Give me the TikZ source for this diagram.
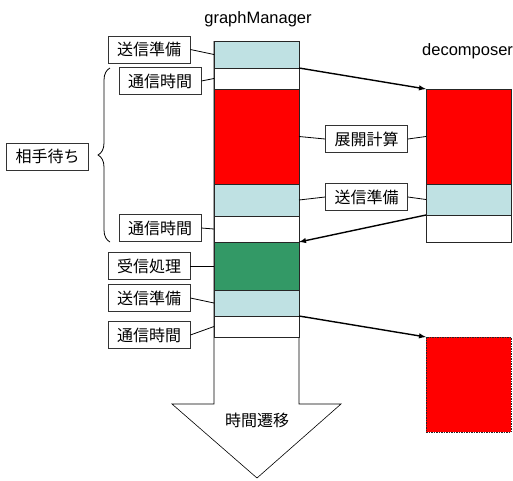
\documentclass[tikz,border=0pt]{standalone}
\usepackage{fontspec}
\setmainfont{Liberation Sans}
\newfontfamily\jpfont{Noto Sans CJK JP}
\usetikzlibrary{decorations.pathreplacing}
\definecolor{ltblue}{HTML}{BFE1E3}
\definecolor{procgreen}{HTML}{339966}
\begin{document}
\begin{tikzpicture}[x=1pt, y=-1pt, >=latex,
    seg/.style={draw=black!85, line width=0.6pt, inner sep=0, outer sep=0,
      minimum width=85, anchor=north west},
    lbl/.style={draw=black!80, line width=0.8pt, fill=white, inner sep=0,
      minimum width=82, minimum height=27, font=\jpfont\fontsize{16}{19}\selectfont},
    msg/.style={->, line width=1.4pt}]
  \useasboundingbox (0,0) rectangle (513,480);
  % time arrow behind the graphManager column
  \draw[line width=0.6pt, fill=white] (214,41) -- (214,404) -- (172,404) -- (257,478)
    -- (341,404) -- (299,404) -- (299,41);
  \node[font=\jpfont\fontsize{16}{19}\selectfont] (flow) at (257,420) {時間遷移};
  \foreach \n/\y/\h/\c in {g1/41/27/ltblue, g2/68/21/white, g3/89/95/red,
      g4/184/32/ltblue, g5/216/26/white, g6/242/48/procgreen, g7/290/26/ltblue,
      g8/316/21/white}
    \node[seg, fill=\c, minimum height=\h] (\n) at (214,\y) {};
  \foreach \n/\y/\h/\c in {d1/89/95/red, d2/184/31/ltblue, d3/215/27/white}
    \node[seg, fill=\c, minimum height=\h] (\n) at (426,\y) {};
  \node[seg, fill=red, minimum height=95, line width=0.9pt,
    dash pattern=on 1.5pt off 1pt] (d4) at (426,337) {};
  \node[anchor=base, font=\fontsize{16.5}{19}\selectfont] (gm) at (258,23) {graphManager};
  \node[anchor=base west, font=\fontsize{16.5}{19}\selectfont, inner sep=0] (dc) at (422,55) {decomposer};
  % labels
  \node[lbl] (l1) at (149,49.5) {送信準備};
  \node[lbl] (l2) at (160,81) {通信時間};
  \node[lbl] (l3) at (160,228) {通信時間};
  \node[lbl] (l4) at (149,266) {受信処理};
  \node[lbl] (l5) at (149,298) {送信準備};
  \node[lbl] (l6) at (149,335) {通信時間};
  \node[lbl] (wait) at (47.5,156.5) {相手待ち};
  \node[lbl] (m1) at (366.5,139) {展開計算};
  \node[lbl] (m2) at (366.5,197) {送信準備};
  \foreach \a/\b in {l1/g1, l2/g2, l3/g5, l4/g6, l5/g7, l6/g8}
    \draw[line width=0.8pt] (\a.east) -- (\b.west);
  \foreach \a/\b/\c in {m1/g3/d1, m2/g4/d2} {
    \draw[line width=0.8pt] (\b.east) -- (\a.west);
    \draw[line width=0.8pt] (\a.east) -- (\c.west);
  }
  \draw[line width=0.8pt, decorate, decoration={brace, amplitude=12}]
    (110,242) -- (110,68);
  % messages
  \draw[msg] (g1.south east) -- (d1.north west);
  \draw[msg] (d2.south west) -- (g5.south east);
  \draw[msg] (g7.south east) -- (d4.north west);
\end{tikzpicture}
\end{document}
